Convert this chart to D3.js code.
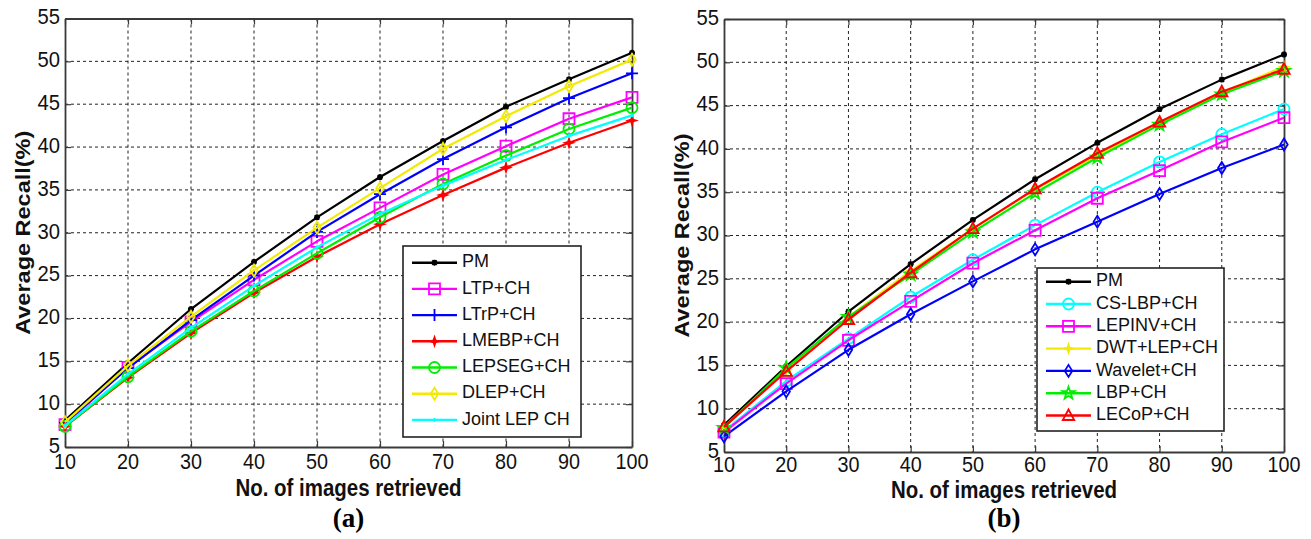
<!DOCTYPE html>
<html><head><meta charset="utf-8">
<script src="https://cdn.jsdelivr.net/npm/d3@7"></script>
<style>body{margin:0;background:#fff;} svg{display:block;}</style>
</head><body>
<script>
// ---------- DATA ----------
const retrieved = [10,20,30,40,50,60,70,80,90,100];
const xTickValues = [10,20,30,40,50,60,70,80,90,100];
const yTickValues = [5,10,15,20,25,30,35,40,45,50,55];

// Panel (a)
const pmA      = [8.1,14.8,21.1,26.6,31.8,36.5,40.7,44.7,47.9,51.0];
const ltpCH    = [7.6,14.3,19.6,24.5,29.0,32.9,36.8,40.1,43.3,45.8];
const ltrpCH   = [7.8,14.2,19.8,25.0,30.1,34.5,38.6,42.3,45.7,48.6];
const lmebpCH  = [7.4,13.1,18.3,23.0,27.2,31.0,34.4,37.6,40.5,43.1];
const lepsegCH = [7.4,13.2,18.5,23.2,27.6,31.8,35.7,39.0,42.1,44.6];
const dlepCH   = [7.9,14.5,20.2,25.6,30.6,35.2,39.8,43.6,47.1,50.2];
const jointLepCH = [7.5,13.5,18.9,23.8,28.3,32.2,35.5,38.5,41.3,43.7];

// Panel (b)
const pmB      = [8.1,14.9,21.2,26.7,31.8,36.5,40.7,44.6,48.0,50.9];
const csLbpCH  = [7.4,13.2,18.1,22.9,27.2,31.2,35.0,38.5,41.7,44.6];
const lepinvCH = [7.3,12.9,17.9,22.4,26.8,30.6,34.3,37.5,40.8,43.6];
const dwtLepCH = [7.9,14.5,20.6,25.9,30.8,35.3,39.3,43.0,46.5,49.5];
const waveletCH= [6.8,12.0,16.8,20.9,24.7,28.4,31.6,34.8,37.8,40.5];
const lbpCH    = [7.8,14.7,20.6,25.5,30.4,34.9,39.0,42.8,46.3,49.0];
const lecopCH  = [7.9,14.3,20.3,25.7,30.8,35.4,39.5,43.1,46.6,49.2];

const namesA = ["PM","LTP+CH","LTrP+CH","LMEBP+CH","LEPSEG+CH","DLEP+CH","Joint LEP CH"];
const namesB = ["PM","CS-LBP+CH","LEPINV+CH","DWT+LEP+CH","Wavelet+CH","LBP+CH","LECoP+CH"];

// ---------- STYLE ----------
const seriesA = [
  {name:namesA[0], values:pmA, color:"#000000", marker:"asterisk", size:6},
  {name:namesA[1], values:ltpCH, color:"#ff00ff", marker:"square", size:11},
  {name:namesA[2], values:ltrpCH, color:"#0000ff", marker:"plus", size:12},
  {name:namesA[3], values:lmebpCH, color:"#ff0000", marker:"starfill", size:8},
  {name:namesA[4], values:lepsegCH, color:"#00ee00", marker:"circle", size:11},
  {name:namesA[5], values:dlepCH, color:"#f2ea00", marker:"diamond", size:12},
  {name:namesA[6], values:jointLepCH, color:"#00ffff", marker:"dot", size:4}
];
const seriesB = [
  {name:namesB[0], values:pmB, color:"#000000", marker:"asterisk", size:6},
  {name:namesB[1], values:csLbpCH, color:"#00ffff", marker:"circle", size:11},
  {name:namesB[2], values:lepinvCH, color:"#ff00ff", marker:"square", size:11},
  {name:namesB[3], values:dwtLepCH, color:"#f2ea00", marker:"starfill", size:8},
  {name:namesB[4], values:waveletCH, color:"#0000ff", marker:"diamond", size:12},
  {name:namesB[5], values:lbpCH, color:"#00ee00", marker:"pentagram", size:13},
  {name:namesB[6], values:lecopCH, color:"#ff0000", marker:"triangle", size:12}
];

const W = 1311, H = 539;
const svg = d3.select("body").append("svg").attr("width", W).attr("height", H);
const FONT = "'Liberation Sans', Arial, Helvetica, sans-serif";

function markerPath(type, s) {
  const h = s/2;
  switch(type) {
    case "square": return `M${-h},${-h}H${h}V${h}H${-h}Z`;
    case "plus": return `M${-h},0H${h}M0,${-h}V${h}`;
    case "asterisk": {
      const d = h*0.75;
      return `M${-h},0H${h}M0,${-h}V${h}M${-d},${-d}L${d},${d}M${-d},${d}L${d},${-d}`;
    }
    case "circle": return d3.arc()({innerRadius:0,outerRadius:h,startAngle:0,endAngle:2*Math.PI}).replace(/L0,0Z?|M0,0/g,"") ;
    case "diamond": { const w = h*0.62; return `M0,${-h}L${w},0L0,${h}L${-w},0Z`; }
    case "triangle": return `M0,${-h}L${h*0.95},${h*0.75}L${-h*0.95},${h*0.75}Z`;
    case "pentagram": {
      let p = [];
      for (let i=0;i<10;i++){
        const r = i%2===0 ? h : h*0.4;
        const a = -Math.PI/2 + i*Math.PI/5;
        p.push([r*Math.cos(a), r*Math.sin(a)]);
      }
      return "M"+p.map(q=>q[0].toFixed(2)+","+q[1].toFixed(2)).join("L")+"Z";
    }
    case "starfill": {
      let p = [];
      for (let i=0;i<8;i++){
        const r = i%2===0 ? h : h*0.35;
        const a = -Math.PI/2 + i*Math.PI/4;
        p.push([r*Math.cos(a), r*Math.sin(a)]);
      }
      return "M"+p.map(q=>q[0].toFixed(2)+","+q[1].toFixed(2)).join("L")+"Z";
    }
    case "dot": return `M${-h},0H${h}M0,${-h}V${h}`;
  }
}

function drawMarker(g, type, s, color, x, y) {
  let p;
  if (type === "circle") {
    p = g.append("circle").attr("cx", x).attr("cy", y).attr("r", s/2)
      .attr("fill","none").attr("stroke",color).attr("stroke-width",1.8);
    return;
  }
  p = g.append("path").attr("d", markerPath(type, s)).attr("transform", `translate(${x},${y})`)
    .attr("stroke", color).attr("stroke-width", 1.8)
    .attr("fill", (type==="starfill") ? color : "none");
}

function panel(cfg) {
  const g = svg.append("g");
  const x = d3.scaleLinear().domain([10,100]).range([cfg.left, cfg.right]);
  const y = d3.scaleLinear().domain([5,55]).range([cfg.bottom, cfg.top]);

  // Grid
  const grid = g.append("g");
  xTickValues.slice(1,-1).forEach(v => {
    grid.append("line").attr("x1", x(v)).attr("x2", x(v)).attr("y1", cfg.top).attr("y2", cfg.bottom)
      .attr("stroke","#222").attr("stroke-width",1).attr("stroke-dasharray","3,3");
  });
  yTickValues.slice(1,-1).forEach(v => {
    grid.append("line").attr("x1", cfg.left).attr("x2", cfg.right).attr("y1", y(v)).attr("y2", y(v))
      .attr("stroke","#222").attr("stroke-width",1).attr("stroke-dasharray","3,3");
  });

  // Axes (D3 axes with inward ticks)
  const axB = d3.axisBottom(x).tickValues(xTickValues).tickSize(-6).tickFormat("").tickSizeOuter(0);
  const axT = d3.axisTop(x).tickValues(xTickValues).tickSize(-6).tickFormat("").tickSizeOuter(0);
  const axL = d3.axisLeft(y).tickValues(yTickValues).tickSize(-6).tickFormat("").tickSizeOuter(0);
  const axR = d3.axisRight(y).tickValues(yTickValues).tickSize(-6).tickFormat("").tickSizeOuter(0);
  const axStyle = sel => { sel.selectAll("path").attr("stroke","#3a3a3a").attr("stroke-width",1.8);
                           sel.selectAll("line").attr("stroke","#3a3a3a").attr("stroke-width",1.2); };
  g.append("g").attr("transform",`translate(0,${cfg.bottom})`).call(axB).call(axStyle);
  g.append("g").attr("transform",`translate(0,${cfg.top})`).call(axT).call(axStyle);
  g.append("g").attr("transform",`translate(${cfg.left},0)`).call(axL).call(axStyle);
  g.append("g").attr("transform",`translate(${cfg.right},0)`).call(axR).call(axStyle);

  // Tick labels
  xTickValues.forEach(v => {
    g.append("text").attr("transform", `translate(${x(v)},${cfg.bottom+cfg.xlabOff}) scale(0.9,1)`)
      .attr("text-anchor","middle").attr("dominant-baseline","middle")
      .attr("font-family",FONT).attr("font-size",22).attr("fill","#111").text(v);
  });
  yTickValues.forEach(v => {
    g.append("text").attr("transform", `translate(${cfg.left-5},${y(v)}) scale(0.92,1)`)
      .attr("text-anchor","end").attr("dominant-baseline","middle")
      .attr("font-family",FONT).attr("font-size",22).attr("fill","#111").text(v);
  });

  // Lines + markers
  const line = d3.line().x((d,i)=>x(retrieved[i])).y(d=>y(d));
  cfg.series.forEach(s => {
    g.append("path").attr("d", line(s.values)).attr("fill","none")
      .attr("stroke", s.color).attr("stroke-width", 2.2).attr("stroke-linejoin","round");
    const mg = g.append("g");
    s.values.forEach((v,i) => drawMarker(mg, s.marker, s.size, s.color, x(retrieved[i]), y(v)));
  });

  // Axis titles
  g.append("text").attr("transform", `translate(${(cfg.left+cfg.right)/2},${cfg.xtitleY}) scale(0.87,1)`)
    .attr("text-anchor","middle").attr("dominant-baseline","middle")
    .attr("font-family",FONT).attr("font-weight","bold").attr("font-size",23.5).attr("fill","#111")
    .text("No. of images retrieved");
  g.append("text").attr("transform", `translate(${cfg.ytitleX},${(cfg.top+cfg.bottom)/2}) scale(0.87,1) rotate(-90)`)
    .attr("text-anchor","middle").attr("dominant-baseline","middle")
    .attr("font-family",FONT).attr("font-weight","bold").attr("font-size",23.5).attr("fill","#111")
    .text("Average Recall(%)");
  g.append("text").attr("x", (cfg.left+cfg.right)/2).attr("y", cfg.panelLabelY)
    .attr("text-anchor","middle").attr("dominant-baseline","middle")
    .attr("font-family","'Liberation Serif', 'Times New Roman', serif").attr("font-weight","bold")
    .attr("font-size",27).attr("fill","#000").text(cfg.label);

  // Legend
  const L = cfg.legend;
  const lg = g.append("g");
  lg.append("rect").attr("x",L.x).attr("y",L.y).attr("width",L.w).attr("height",L.h)
    .attr("fill","#fff").attr("stroke","#222").attr("stroke-width",1.6);
  cfg.series.forEach((s,i) => {
    const yy = L.first + i*L.rowH;
    lg.append("line").attr("x1",L.x1).attr("x2",L.x2).attr("y1",yy).attr("y2",yy)
      .attr("stroke",s.color).attr("stroke-width",2.4);
    drawMarker(lg, s.marker, s.size, s.color, (L.x1+L.x2)/2, yy);
    lg.append("text").attr("x",L.tx).attr("y",yy).attr("dominant-baseline","middle")
      .attr("font-family",FONT).attr("font-size",18).attr("fill","#111").text(s.name);
  });
}

panel({left:65, right:632, top:18.5, bottom:447, xlabOff:16, xtitleY:490, ytitleX:25, panelLabelY:521, label:"(a)",
  series: seriesA,
  legend:{x:403, y:246, w:178, h:191, first:262.7, rowH:26.2, x1:412, x2:457, tx:462}});
panel({left:724, right:1284, top:19, bottom:452, xlabOff:14, xtitleY:492, ytitleX:684, panelLabelY:521, label:"(b)",
  series: seriesB,
  legend:{x:1037, y:268, w:187, h:163, first:281.7, rowH:22.3, x1:1046, x2:1091, tx:1096}});
</script>
</body></html>
